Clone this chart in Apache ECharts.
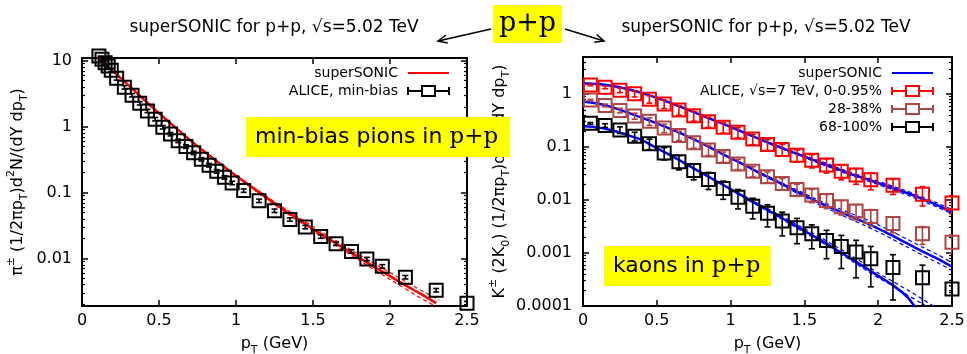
<!DOCTYPE html>
<html>
<head>
<meta charset="utf-8">
<script src="https://cdn.jsdelivr.net/npm/echarts@6/dist/echarts.min.js"></script>
<style>
  html, body { margin: 0; padding: 0; background: #fff; }
  #chart { width: 967px; height: 354px; }
</style>
</head>
<body>
<div id="chart"></div>
<script>
// ---------- axis ticks ----------
const pTTicks = [0, 0.5, 1, 1.5, 2, 2.5];
const pTTickLabels = ['0', '0.5', '1', '1.5', '2', '2.5'];
const pionYTicks = [0.01, 0.1, 1, 10];
const pionYTickLabels = ['0.01', '0.1', '1', '10'];
const kaonYTicks = [0.0001, 0.001, 0.01, 0.1, 1];
const kaonYTickLabels = ['0.0001', '0.001', '0.01', '0.1', '1'];

// ---------- pions: ALICE min-bias ----------
const pionPt = [0.11, 0.13, 0.15, 0.17, 0.19, 0.225, 0.275, 0.325, 0.375, 0.425, 0.475, 0.525,
  0.575, 0.625, 0.675, 0.725, 0.775, 0.825, 0.875, 0.925, 0.975, 1.05, 1.15, 1.25, 1.35, 1.45,
  1.55, 1.65, 1.75, 1.85, 1.95, 2.1, 2.3, 2.5];
const pionYield = [11.8, 10.5, 9.3, 8.3, 7.2, 5.4, 3.95, 3.0, 2.26, 1.73, 1.30, 0.98,
  0.77, 0.61, 0.50, 0.40, 0.32, 0.26, 0.21, 0.17, 0.14, 0.107, 0.075, 0.053, 0.039, 0.030,
  0.0215, 0.0167, 0.0128, 0.0098, 0.0076, 0.0052, 0.0033, 0.0021];
const pionErr = [0.7, 0.63, 0.56, 0.5, 0.43, 0.32, 0.24, 0.18, 0.135, 0.1, 0.078, 0.059,
  0.046, 0.037, 0.03, 0.024, 0.019, 0.016, 0.013, 0.01, 0.0084, 0.0064, 0.0045, 0.0032, 0.0023, 0.0018,
  0.0013, 0.001, 0.00077, 0.00059, 0.00046, 0.00031, 0.0002, 0.00013];

// ---------- pions: superSONIC ----------
const pionModelPt = [0.1, 0.15, 0.2, 0.25, 0.3, 0.4, 0.5, 0.6, 0.7, 0.8, 0.9, 1.0, 1.1, 1.2, 1.3,
  1.4, 1.5, 1.6, 1.7, 1.8, 1.9, 2.0, 2.1, 2.2, 2.3];
const pionModel = [11.5, 9.0, 7.0, 5.5, 4.3, 2.6, 1.6, 1.0, 0.63, 0.41, 0.27, 0.18, 0.122, 0.083, 0.057,
  0.040, 0.028, 0.020, 0.0143, 0.0103, 0.0074, 0.0054, 0.0039, 0.0029, 0.0021];
const pionBandPt = [1.0, 1.2, 1.4, 1.6, 1.8, 2.0, 2.2, 2.32];
const pionBandHigh = [0.185, 0.087, 0.043, 0.0218, 0.0114, 0.0061, 0.0033, 0.00235];
const pionBandLow = [0.175, 0.079, 0.0375, 0.0185, 0.0094, 0.0048, 0.0025, 0.00175];

// ---------- kaons: ALICE 7 TeV, multiplicity classes ----------
const kaonPt = [0.05, 0.15, 0.25, 0.35, 0.45, 0.55, 0.65, 0.75, 0.85, 0.95, 1.05, 1.15, 1.25,
  1.35, 1.45, 1.55, 1.65, 1.75, 1.85, 1.95, 2.1, 2.3, 2.5];
const kaonHigh = [1.48, 1.34, 1.18, 1.01, 0.80, 0.65, 0.50, 0.39, 0.30, 0.235, 0.19, 0.142, 0.112,
  0.090, 0.070, 0.056, 0.046, 0.035, 0.0295, 0.024, 0.019, 0.0128, 0.0088];
const kaonHighErr = [0.045, 0.08, 0.12, 0.13, 0.13, 0.117, 0.10, 0.082, 0.066, 0.052, 0.042, 0.031, 0.026,
  0.022, 0.018, 0.0157, 0.0138, 0.0109, 0.0097, 0.0084, 0.0063, 0.0051, 0.0033];
const kaonMid = [0.77, 0.61, 0.49, 0.385, 0.305, 0.228, 0.165, 0.12, 0.088, 0.066, 0.048, 0.035, 0.0275,
  0.0205, 0.0158, 0.0124, 0.0098, 0.0075, 0.0062, 0.0049, 0.0036, 0.0023, 0.0016];
const kaonMidErr = [0.025, 0.037, 0.049, 0.05, 0.049, 0.041, 0.033, 0.025, 0.019, 0.0145, 0.0106, 0.0077, 0.0063,
  0.0049, 0.0041, 0.0035, 0.0029, 0.0023, 0.002, 0.0017, 0.0012, 0.00085, 0.0006];
const kaonLow = [0.28, 0.255, 0.21, 0.16, 0.115, 0.077, 0.053, 0.036, 0.0245, 0.0165, 0.0113, 0.0076, 0.0056,
  0.0040, 0.0030, 0.0023, 0.00173, 0.00133, 0.00104, 0.00078, 0.00053, 0.00034, 0.00021];
const kaonLowErr = [0.01, 0.02, 0.03, 0.03, 0.026, 0.02, 0.016, 0.012, 0.0087, 0.0062, 0.0045, 0.0032, 0.0025,
  0.0019, 0.0015, 0.0011, 0.00095, 0.00082, 0.0007, 0.00055, 0.0004, 0.00025, 0.00003];

// ---------- kaons: superSONIC ----------
const kaonModelPt = [0, 0.1, 0.2, 0.3, 0.4, 0.5, 0.6, 0.7, 0.8, 0.9, 1.0, 1.1, 1.2, 1.3, 1.4, 1.5,
  1.6, 1.7, 1.8, 1.9, 2.0, 2.1, 2.2, 2.3, 2.4, 2.5];
const kaonModelHigh = [1.60, 1.55, 1.42, 1.24, 1.04, 0.85, 0.67, 0.52, 0.40, 0.31, 0.24, 0.183, 0.140,
  0.108, 0.084, 0.066, 0.052, 0.041, 0.032, 0.026, 0.021, 0.0168, 0.0134, 0.0105, 0.0080, 0.0060];
const kaonModelMid = [0.72, 0.66, 0.56, 0.45, 0.355, 0.28, 0.215, 0.163, 0.120, 0.086, 0.062, 0.045, 0.032,
  0.0234, 0.0169, 0.0123, 0.0089, 0.0068, 0.0051, 0.0039, 0.0029, 0.0021, 0.0015, 0.00107, 0.00078, 0.00055];
const kaonModelLow = [0.25, 0.235, 0.205, 0.17, 0.135, 0.095, 0.068, 0.0474, 0.033, 0.023, 0.016, 0.0112,
  0.0078, 0.0054, 0.0038, 0.0026, 0.00183, 0.00123, 0.00083, 0.00056, 0.00037, 0.000245, 0.000145, 0.00006];
const kaonBandPt = [1.0, 1.1, 1.2, 1.3, 1.4, 1.5, 1.6, 1.7, 1.8, 1.9, 2.0, 2.1, 2.2, 2.3, 2.4, 2.5];
const kaonBandHighUp = [0.243, 0.186, 0.143, 0.111, 0.087, 0.069, 0.055, 0.0435, 0.034, 0.0278, 0.0226,
  0.0182, 0.0146, 0.0115, 0.0088, 0.0066];
const kaonBandHighDn = [0.237, 0.180, 0.137, 0.105, 0.081, 0.063, 0.049, 0.0386, 0.030, 0.0243, 0.0195,
  0.0155, 0.0123, 0.0096, 0.0073, 0.0055];
const kaonBandMidUp = [0.063, 0.046, 0.033, 0.0245, 0.0180, 0.0133, 0.0098, 0.0076, 0.0058, 0.0045, 0.0034,
  0.0025, 0.0018, 0.00129, 0.00094, 0.00066];
const kaonBandMidDn = [0.061, 0.044, 0.031, 0.0223, 0.0159, 0.0114, 0.0081, 0.0061, 0.0045, 0.0034, 0.0025,
  0.0018, 0.00128, 0.00091, 0.00066, 0.00047];
const kaonBandLowUp = [0.0165, 0.0117, 0.0082, 0.0058, 0.0041, 0.0029, 0.00205, 0.0014, 0.00096, 0.00064,
  0.00042, 0.00029, 0.0002, 0.000135, 0.00009];
const kaonBandLowDn = [0.0155, 0.0107, 0.0074, 0.0051, 0.0036, 0.0024, 0.0017, 0.00114, 0.00077, 0.00051,
  0.00034, 0.00024, 0.00016, 0.00011, 0.00007];

// ---------- legend text ----------
const legendText = {
  'pion model': 'superSONIC',
  'pion data': 'ALICE, min-bias',
  'kaon model': 'superSONIC',
  'kaon data high': 'ALICE, \u221As=7 TeV, 0-0.95%',
  'kaon data mid': '28-38%',
  'kaon data low': '68-100%'
};

// ---------- styling ----------
const FONT = 'DejaVu Sans';
const RED = '#ff0000';
const BROWN = '#b04444';
const BLACK = '#000000';
const BLUE = '#0000ff';
const YELLOW = '#ffff00';
// square with horizontal error bar, as used by the data legend entries
const errIcon = 'path://M0,1V9M0,5H14M14,0H27V10H14ZM27,5H41M41,1V9';

const pairs = (xs, ys) => xs.map((x, i) => [x, ys[i]]);

function labelFrom(ticks, labels) {
  return function (v) {
    for (let i = 0; i < ticks.length; i++) {
      if (Math.abs(v - ticks[i]) <= Math.abs(ticks[i]) * 1e-6 + 1e-12) return labels[i];
    }
    return '';
  };
}

const nameRich = {
  sub: { fontSize: 11, fontFamily: FONT, color: '#000', verticalAlign: 'bottom', lineHeight: 24 },
  sup: { fontSize: 11, fontFamily: FONT, color: '#000', verticalAlign: 'top', lineHeight: 24 }
};

function xAxisPair(gridIndex) {
  const base = {
    type: 'value', gridIndex, min: 0, max: 2.5, interval: 0.5,
    axisLine: { show: true, onZero: false, lineStyle: { color: '#000', width: 2 } },
    axisTick: { show: true, inside: true, length: 6, lineStyle: { color: '#000', width: 1.5 } },
    splitLine: { show: false }
  };
  return [
    Object.assign({}, base, {
      position: 'bottom',
      axisLabel: { show: true, margin: 7, fontSize: 16, fontFamily: FONT, color: '#000',
        formatter: labelFrom(pTTicks, pTTickLabels) },
      name: 'p{sub|T} (GeV)', nameLocation: 'middle', nameGap: 26,
      nameTextStyle: { fontSize: 16, fontFamily: FONT, color: '#000', rich: nameRich }
    }),
    Object.assign({}, base, { position: 'top', axisLabel: { show: false } })
  ];
}

function yAxisPair(gridIndex, min, max, ticks, labels, name, nameGap, margin) {
  const base = {
    type: 'log', logBase: 10, gridIndex, min, max,
    axisLine: { show: true, onZero: false, lineStyle: { color: '#000', width: 2 } },
    axisTick: { show: true, inside: true, length: 6, lineStyle: { color: '#000', width: 1.5 } },
    minorTick: { show: true, splitNumber: 9, length: 3, lineStyle: { color: '#000', width: 1.2 } },
    splitLine: { show: false },
    minorSplitLine: { show: false }
  };
  return [
    Object.assign({}, base, {
      position: 'left',
      axisLabel: { show: true, margin, fontSize: 16, fontFamily: FONT, color: '#000',
        formatter: labelFrom(ticks, labels) },
      name, nameLocation: 'middle', nameGap, nameRotate: 90,
      nameTextStyle: { fontSize: 16, fontFamily: FONT, color: '#000', rich: nameRich }
    }),
    Object.assign({}, base, { position: 'right', axisLabel: { show: false } })
  ];
}

function modelLine(name, xs, ys, color, xi, yi, dashed) {
  return {
    type: 'line', name, xAxisIndex: xi, yAxisIndex: yi,
    data: pairs(xs, ys), symbol: 'none', showSymbol: false, smooth: 0.2, clip: true,
    silent: true, z: dashed ? 2 : 3,
    itemStyle: { color },
    lineStyle: dashed ? { color, width: 1.2, type: [4, 3] } : { color, width: 2.5 }
  };
}

function dataSquares(name, xs, ys, color, xi, yi, clip) {
  return {
    type: 'scatter', name, xAxisIndex: xi, yAxisIndex: yi,
    data: pairs(xs, ys), symbol: 'rect', symbolSize: 13, clip, silent: true, z: 5,
    itemStyle: { color: 'rgba(0,0,0,0)', borderColor: color, borderWidth: 2, opacity: 1 }
  };
}

function errorBars(name, xs, ys, errs, color, xi, yi) {
  return {
    type: 'custom', name, xAxisIndex: xi, yAxisIndex: yi, clip: true, silent: true, z: 4,
    data: xs.map((x, i) => [x, ys[i] - errs[i], ys[i] + errs[i]]),
    encode: { x: 0, y: [1, 2] },
    renderItem: function (params, api) {
      const x = api.value(0);
      const lo = api.coord([x, api.value(1)]);
      const hi = api.coord([x, api.value(2)]);
      const c = 3;
      const st = { stroke: color, lineWidth: 1.6 };
      return {
        type: 'group',
        children: [
          { type: 'line', shape: { x1: lo[0], y1: lo[1], x2: hi[0], y2: hi[1] }, style: st },
          { type: 'line', shape: { x1: lo[0] - c, y1: lo[1], x2: lo[0] + c, y2: lo[1] }, style: st },
          { type: 'line', shape: { x1: hi[0] - c, y1: hi[1], x2: hi[0] + c, y2: hi[1] }, style: st }
        ]
      };
    }
  };
}

function legendBox(right, top, items) {
  return {
    orient: 'vertical', align: 'right', right, top, padding: 0,
    itemWidth: 41, itemHeight: 12, itemGap: 4, selectedMode: false,
    data: items,
    formatter: n => legendText[n],
    textStyle: { fontSize: 14, fontFamily: FONT, color: '#000', padding: [0, 5, 0, 0] }
  };
}

// model entries show a plain line sample (no marker)
const lineEntry = name => ({ name, itemStyle: { opacity: 0 } });

function yellowBox(x, y, w, h, tx, ty, text, rich) {
  return {
    type: 'group',
    children: [
      { type: 'rect', z: 100, shape: { x, y, width: w, height: h }, style: { fill: YELLOW } },
      { type: 'text', z: 101, x: tx, y: ty, style: { text, rich, verticalAlign: 'middle', align: 'left' } }
    ]
  };
}

const boxRich = {
  s: { fontFamily: FONT, fontSize: 22, fill: '#000' },
  m: { fontFamily: 'DejaVu Serif', fontSize: 23, fill: '#000' }
};

const xs0 = xAxisPair(0), xs1 = xAxisPair(1);
const ys0 = yAxisPair(0, 0.0019, 11, pionYTicks, pionYTickLabels,
  '\u03C0{sup|\u00B1} (1/2\u03C0p{sub|T})d{sup|2}N/(dY dp{sub|T})', 52, 10);
const ys1 = yAxisPair(1, 0.0001, 5, kaonYTicks, kaonYTickLabels,
  'K{sup|\u00B1} (2K{sub|0}) (1/2\u03C0p{sub|T})d{sup|2}N/(dY dp{sub|T})', 70, 11);

const titleStyle = { font: '17px "DejaVu Sans"', fill: '#000', align: 'center', verticalAlign: 'middle' };

const option = {
  animation: false,
  backgroundColor: '#fff',
  textStyle: { fontFamily: FONT },
  grid: [
    { left: 82, top: 58, width: 385, height: 248, containLabel: false, outerBoundsMode: 'none' },
    { left: 583, top: 57, width: 369, height: 249, containLabel: false, outerBoundsMode: 'none' }
  ],
  xAxis: [xs0[0], xs0[1], xs1[0], xs1[1]],
  yAxis: [ys0[0], ys0[1], ys1[0], ys1[1]],
  legend: [
    legendBox(517, 66, [lineEntry('pion model'), { name: 'pion data', icon: errIcon }]),
    legendBox(33, 66, [lineEntry('kaon model'), { name: 'kaon data high', icon: errIcon },
      { name: 'kaon data mid', icon: errIcon }, { name: 'kaon data low', icon: errIcon }])
  ],
  series: [
    // pions
    modelLine('pion model', pionModelPt, pionModel, RED, 0, 0, false),
    modelLine('pion band high', pionBandPt, pionBandHigh, RED, 0, 0, true),
    modelLine('pion band low', pionBandPt, pionBandLow, RED, 0, 0, true),
    dataSquares('pion data', pionPt, pionYield, BLACK, 0, 0, false),
    errorBars('pion data errors', pionPt, pionYield, pionErr, BLACK, 0, 0),
    // kaons: model curves
    modelLine('kaon model', kaonModelPt, kaonModelHigh, BLUE, 2, 2, false),
    modelLine('kaon band high up', kaonBandPt, kaonBandHighUp, BLUE, 2, 2, true),
    modelLine('kaon band high dn', kaonBandPt, kaonBandHighDn, BLUE, 2, 2, true),
    modelLine('kaon model mid', kaonModelPt, kaonModelMid, BLUE, 2, 2, false),
    modelLine('kaon band mid up', kaonBandPt, kaonBandMidUp, BLUE, 2, 2, true),
    modelLine('kaon band mid dn', kaonBandPt, kaonBandMidDn, BLUE, 2, 2, true),
    modelLine('kaon model low', kaonModelPt, kaonModelLow, BLUE, 2, 2, false),
    modelLine('kaon band low up', kaonBandPt, kaonBandLowUp, BLUE, 2, 2, true),
    modelLine('kaon band low dn', kaonBandPt, kaonBandLowDn, BLUE, 2, 2, true),
    // kaons: data
    dataSquares('kaon data high', kaonPt, kaonHigh, RED, 2, 2, false),
    errorBars('kaon high errors', kaonPt, kaonHigh, kaonHighErr, RED, 2, 2),
    dataSquares('kaon data mid', kaonPt, kaonMid, BROWN, 2, 2, false),
    errorBars('kaon mid errors', kaonPt, kaonMid, kaonMidErr, BROWN, 2, 2),
    dataSquares('kaon data low', kaonPt, kaonLow, BLACK, 2, 2, false),
    errorBars('kaon low errors', kaonPt, kaonLow, kaonLowErr, BLACK, 2, 2)
  ],
  graphic: [
    { type: 'text', x: 274, y: 28, z: 50,
      style: Object.assign({ text: 'superSONIC for p+p, \u221As=5.02 TeV' }, titleStyle) },
    { type: 'text', x: 766, y: 28, z: 50,
      style: Object.assign({ text: 'superSONIC for p+p, \u221As=5.02 TeV' }, titleStyle) },
    // top "p+p" box with arrows to both panels
    {
      type: 'group',
      children: [
        { type: 'rect', z: 100, shape: { x: 493, y: 5, width: 69, height: 38 }, style: { fill: YELLOW } },
        { type: 'text', z: 101, x: 527.5, y: 24,
          style: { text: 'p+p', font: '27px "DejaVu Serif"', fill: '#000', align: 'center', verticalAlign: 'middle' } },
        { type: 'line', z: 100, shape: { x1: 491, y1: 29, x2: 438, y2: 41 }, style: { stroke: '#000', lineWidth: 1.5 } },
        { type: 'polyline', z: 100, shape: { points: [[446, 35], [438, 41], [447.7, 43]] },
          style: { stroke: '#000', lineWidth: 1.5, fill: null } },
        { type: 'line', z: 100, shape: { x1: 565, y1: 29, x2: 604, y2: 41 }, style: { stroke: '#000', lineWidth: 1.5 } },
        { type: 'polyline', z: 100, shape: { points: [[596.6, 34.5], [604, 41], [594.2, 42.2]] },
          style: { stroke: '#000', lineWidth: 1.5, fill: null } }
      ]
    },
    yellowBox(246, 117, 264, 40, 255, 137, '{s|min-bias pions in }{m|p+p}', boxRich),
    yellowBox(604, 246, 167, 40, 613, 266, '{s|kaons in }{m|p+p}', boxRich)
  ]
};

const chart = echarts.init(document.getElementById('chart'), null, { renderer: 'canvas' });
chart.setOption(option);
</script>
</body>
</html>
